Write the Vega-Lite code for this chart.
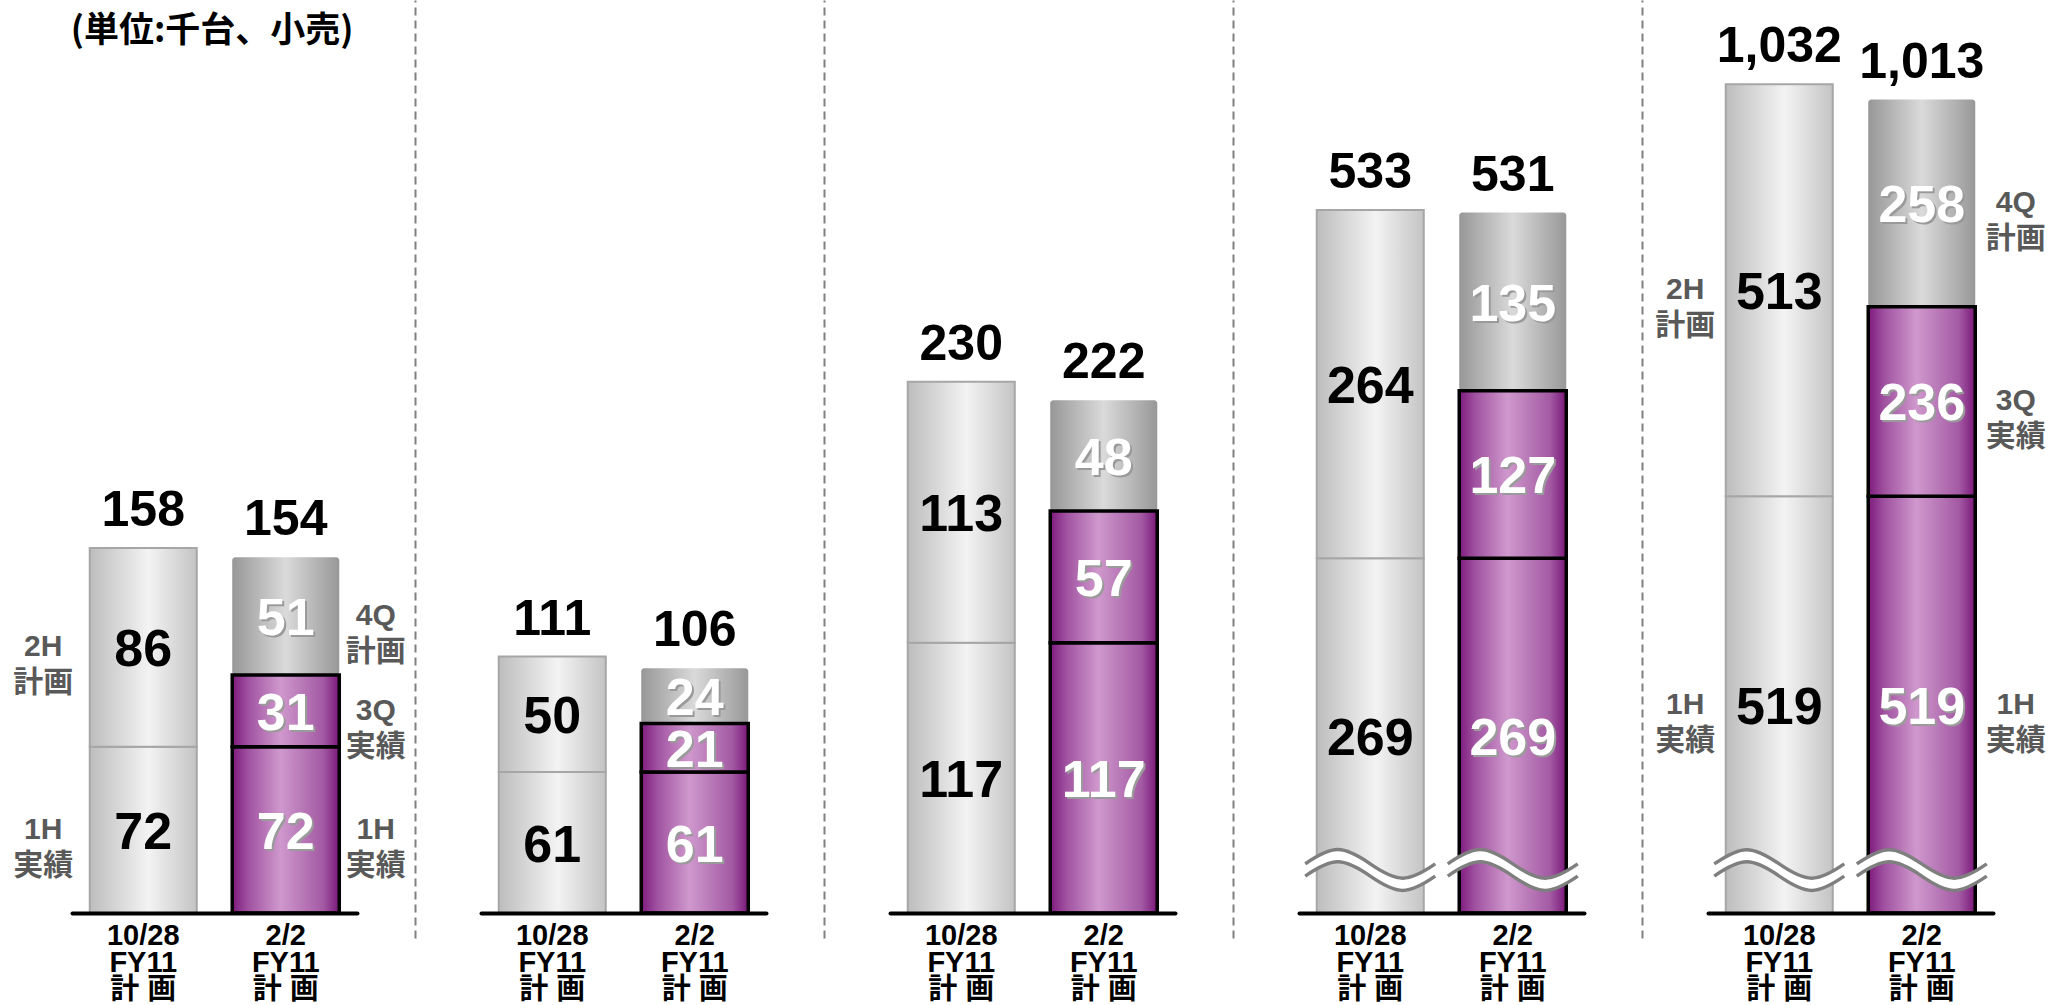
{
 "$schema": "https://vega.github.io/schema/vega-lite/v6.json",
 "background": "white",
 "padding": {"left": 13, "top": 0, "right": 0, "bottom": 0},
 "spacing": 124,
 "bounds": "flush",
 "config": {"view": {"stroke": null}},
 "data": {"values": [
  {"panel": 1, "plan": "10/28|FY11|計 画", "seg": "1H", "value": 72, "note": "1H\n実績"},
  {"panel": 1, "plan": "10/28|FY11|計 画", "seg": "2H", "value": 86, "note": "2H\n計画"},
  {"panel": 1, "plan": "2/2|FY11|計 画", "seg": "1H", "value": 72, "note": "1H\n実績"},
  {"panel": 1, "plan": "2/2|FY11|計 画", "seg": "3Q", "value": 31, "note": "3Q\n実績"},
  {"panel": 1, "plan": "2/2|FY11|計 画", "seg": "4Q", "value": 51, "note": "4Q\n計画"},
  {"panel": 2, "plan": "10/28|FY11|計 画", "seg": "1H", "value": 61},
  {"panel": 2, "plan": "10/28|FY11|計 画", "seg": "2H", "value": 50},
  {"panel": 2, "plan": "2/2|FY11|計 画", "seg": "1H", "value": 61},
  {"panel": 2, "plan": "2/2|FY11|計 画", "seg": "3Q", "value": 21},
  {"panel": 2, "plan": "2/2|FY11|計 画", "seg": "4Q", "value": 24},
  {"panel": 3, "plan": "10/28|FY11|計 画", "seg": "1H", "value": 117},
  {"panel": 3, "plan": "10/28|FY11|計 画", "seg": "2H", "value": 113},
  {"panel": 3, "plan": "2/2|FY11|計 画", "seg": "1H", "value": 117},
  {"panel": 3, "plan": "2/2|FY11|計 画", "seg": "3Q", "value": 57},
  {"panel": 3, "plan": "2/2|FY11|計 画", "seg": "4Q", "value": 48},
  {"panel": 4, "plan": "10/28|FY11|計 画", "seg": "1H", "value": 269},
  {"panel": 4, "plan": "10/28|FY11|計 画", "seg": "2H", "value": 264},
  {"panel": 4, "plan": "2/2|FY11|計 画", "seg": "1H", "value": 269},
  {"panel": 4, "plan": "2/2|FY11|計 画", "seg": "3Q", "value": 127},
  {"panel": 4, "plan": "2/2|FY11|計 画", "seg": "4Q", "value": 135},
  {"panel": 5, "plan": "10/28|FY11|計 画", "seg": "1H", "value": 519, "note": "1H\n実績"},
  {"panel": 5, "plan": "10/28|FY11|計 画", "seg": "2H", "value": 513, "note": "2H\n計画"},
  {"panel": 5, "plan": "2/2|FY11|計 画", "seg": "1H", "value": 519, "note": "1H\n実績"},
  {"panel": 5, "plan": "2/2|FY11|計 画", "seg": "3Q", "value": 236, "note": "3Q\n実績"},
  {"panel": 5, "plan": "2/2|FY11|計 画", "seg": "4Q", "value": 258, "note": "4Q\n計画"}
 ]},
 "hconcat": [
  {
   "width": 285, "height": 938,
   "transform": [
    {"filter": "datum.panel == 1"},
    {"stack": "value", "groupby": ["plan"], "sort": [{"field": "seg", "order": "ascending"}], "as": ["v0", "v1"]},
    {"calculate": "(datum.v0 + datum.v1) / 2", "as": "mid"}
   ],
   "encoding": {"x": {"field": "plan", "type": "nominal", "sort": null, "title": null, "scale": {"paddingInner": 0.249, "paddingOuter": 0.1245}, "axis": {"domainColor": "#000000", "domainWidth": 4, "domainCap": "round", "ticks": false, "labelAngle": 0, "labelFont": "Liberation Sans, Noto Sans CJK JP", "labelFontSize": 29, "labelFontWeight": "bold", "labelColor": "#000000", "labelPadding": 8, "labelLineHeight": 27, "labelExpr": "split(datum.label, '|')", "offset": -25, "zindex": 1}}},
   "layer": [
    {"transform": [{"filter": "indexof(datum.plan, '10/28') == 0"}], "mark": {"type": "bar", "fill": {"gradient": "linear", "x1": 0, "y1": 0, "x2": 1, "y2": 0, "stops": [{"offset": 0, "color": "#bdbdbd"}, {"offset": 0.55, "color": "#f3f3f3"}, {"offset": 1, "color": "#c4c4c4"}]}, "stroke": "#a6a6a6", "strokeWidth": 2}, "encoding": {"y": {"field": "v0", "type": "quantitative", "scale": {"domain": [-10.82, 395.24], "nice": false, "zero": false}, "axis": null, "title": null}, "y2": {"field": "v1"}}},
    {"transform": [{"filter": "datum.seg == '4Q'"}], "mark": {"type": "bar", "cornerRadius": 3, "fill": {"gradient": "linear", "x1": 0, "y1": 0, "x2": 1, "y2": 0, "stops": [{"offset": 0, "color": "#979797"}, {"offset": 0.5, "color": "#dadada"}, {"offset": 1, "color": "#989898"}]}}, "encoding": {"y": {"field": "v0", "type": "quantitative", "scale": {"domain": [-10.82, 395.24], "nice": false, "zero": false}, "axis": null, "title": null}, "y2": {"field": "v1"}}},
    {"transform": [{"filter": "indexof(datum.plan, '2/2') == 0 && datum.seg != '4Q'"}], "mark": {"type": "bar", "fill": {"gradient": "linear", "x1": 0, "y1": 0, "x2": 1, "y2": 0, "stops": [{"offset": 0, "color": "#7e1a7e"}, {"offset": 0.15, "color": "#a052a0"}, {"offset": 0.45, "color": "#cf98cd"}, {"offset": 0.85, "color": "#a35aa3"}, {"offset": 1, "color": "#7a177a"}]}, "stroke": "#000000", "strokeWidth": 3.5}, "encoding": {"y": {"field": "v0", "type": "quantitative", "scale": {"domain": [-10.82, 395.24], "nice": false, "zero": false}, "axis": null, "title": null}, "y2": {"field": "v1"}}},
    {"transform": [{"filter": "indexof(datum.plan, '10/28') == 0"}], "mark": {"type": "text", "font": "Liberation Sans", "fontSize": 52, "fontWeight": "bold", "color": "#000000", "baseline": "middle", "dy": 3}, "encoding": {"y": {"field": "mid", "type": "quantitative", "scale": {"domain": [-10.82, 395.24], "nice": false, "zero": false}, "axis": null, "title": null}, "text": {"field": "value"}}},
    {"transform": [{"filter": "indexof(datum.plan, '2/2') == 0"}], "mark": {"type": "text", "font": "Liberation Sans", "fontSize": 52, "fontWeight": "bold", "color": "#9a9a9a", "baseline": "middle", "dx": 2, "dy": 5}, "encoding": {"y": {"field": "mid", "type": "quantitative", "scale": {"domain": [-10.82, 395.24], "nice": false, "zero": false}, "axis": null, "title": null}, "text": {"field": "value"}}},
    {"transform": [{"filter": "indexof(datum.plan, '2/2') == 0"}], "mark": {"type": "text", "font": "Liberation Sans", "fontSize": 52, "fontWeight": "bold", "color": "#ffffff", "baseline": "middle", "dy": 3}, "encoding": {"y": {"field": "mid", "type": "quantitative", "scale": {"domain": [-10.82, 395.24], "nice": false, "zero": false}, "axis": null, "title": null}, "text": {"field": "value"}}},
    {"transform": [{"aggregate": [{"op": "sum", "field": "value", "as": "total"}], "groupby": ["plan"]}], "mark": {"type": "text", "font": "Liberation Sans", "fontSize": 50, "fontWeight": "bold", "color": "#000000", "baseline": "alphabetic", "dy": -22}, "encoding": {"y": {"field": "total", "type": "quantitative", "scale": {"domain": [-10.82, 395.24], "nice": false, "zero": false}, "axis": null, "title": null}, "text": {"field": "total", "format": ","}}},
    {"transform": [{"filter": "indexof(datum.plan, '10/28') == 0 && isValid(datum.note)"}], "mark": {"type": "text", "font": "Liberation Sans, Noto Sans CJK JP", "fontSize": 30, "fontWeight": "bold", "color": "#595959", "baseline": "middle", "lineBreak": "\n", "lineHeight": 36, "dx": -100}, "encoding": {"y": {"field": "mid", "type": "quantitative", "scale": {"domain": [-10.82, 395.24], "nice": false, "zero": false}, "axis": null, "title": null}, "text": {"field": "note"}}},
    {"transform": [{"filter": "indexof(datum.plan, '2/2') == 0 && isValid(datum.note)"}], "mark": {"type": "text", "font": "Liberation Sans, Noto Sans CJK JP", "fontSize": 30, "fontWeight": "bold", "color": "#595959", "baseline": "middle", "lineBreak": "\n", "lineHeight": 36, "dx": 90}, "encoding": {"y": {"field": "mid", "type": "quantitative", "scale": {"domain": [-10.82, 395.24], "nice": false, "zero": false}, "axis": null, "title": null}, "text": {"field": "note"}}},
    {"transform": [{"filter": "datum.seg == '2H'"}], "mark": {"type": "text", "font": "Noto Sans CJK JP", "fontSize": 35, "fontWeight": "bold", "color": "#000000", "align": "left", "baseline": "alphabetic", "dx": -19}, "encoding": {"x": {"datum": "10/28|FY11|計 画", "type": "nominal", "bandPosition": 0}, "y": {"datum": 377, "type": "quantitative", "scale": {"domain": [-10.82, 395.24], "nice": false, "zero": false}, "axis": null, "title": null}, "text": {"value": "(単位:千台、小売)"}}}
   ]
  },
  {
   "width": 285, "height": 938,
   "transform": [
    {"filter": "datum.panel == 2"},
    {"stack": "value", "groupby": ["plan"], "sort": [{"field": "seg", "order": "ascending"}], "as": ["v0", "v1"]},
    {"calculate": "(datum.v0 + datum.v1) / 2", "as": "mid"}
   ],
   "encoding": {"x": {"field": "plan", "type": "nominal", "sort": null, "title": null, "scale": {"paddingInner": 0.249, "paddingOuter": 0.1245}, "axis": {"domainColor": "#000000", "domainWidth": 4, "domainCap": "round", "ticks": false, "labelAngle": 0, "labelFont": "Liberation Sans, Noto Sans CJK JP", "labelFontSize": 29, "labelFontWeight": "bold", "labelColor": "#000000", "labelPadding": 8, "labelLineHeight": 27, "labelExpr": "split(datum.label, '|')", "offset": -25, "zindex": 1}}},
   "layer": [
    {"transform": [{"filter": "indexof(datum.plan, '10/28') == 0"}], "mark": {"type": "bar", "fill": {"gradient": "linear", "x1": 0, "y1": 0, "x2": 1, "y2": 0, "stops": [{"offset": 0, "color": "#bdbdbd"}, {"offset": 0.55, "color": "#f3f3f3"}, {"offset": 1, "color": "#c4c4c4"}]}, "stroke": "#a6a6a6", "strokeWidth": 2}, "encoding": {"y": {"field": "v0", "type": "quantitative", "scale": {"domain": [-10.82, 395.24], "nice": false, "zero": false}, "axis": {"labels": false, "ticks": false, "grid": false, "domainDash": [8, 5], "domainColor": "#808080", "domainWidth": 2, "offset": 66}, "title": null}, "y2": {"field": "v1"}}},
    {"transform": [{"filter": "datum.seg == '4Q'"}], "mark": {"type": "bar", "cornerRadius": 3, "fill": {"gradient": "linear", "x1": 0, "y1": 0, "x2": 1, "y2": 0, "stops": [{"offset": 0, "color": "#979797"}, {"offset": 0.5, "color": "#dadada"}, {"offset": 1, "color": "#989898"}]}}, "encoding": {"y": {"field": "v0", "type": "quantitative", "scale": {"domain": [-10.82, 395.24], "nice": false, "zero": false}, "title": null}, "y2": {"field": "v1"}}},
    {"transform": [{"filter": "indexof(datum.plan, '2/2') == 0 && datum.seg != '4Q'"}], "mark": {"type": "bar", "fill": {"gradient": "linear", "x1": 0, "y1": 0, "x2": 1, "y2": 0, "stops": [{"offset": 0, "color": "#7e1a7e"}, {"offset": 0.15, "color": "#a052a0"}, {"offset": 0.45, "color": "#cf98cd"}, {"offset": 0.85, "color": "#a35aa3"}, {"offset": 1, "color": "#7a177a"}]}, "stroke": "#000000", "strokeWidth": 3.5}, "encoding": {"y": {"field": "v0", "type": "quantitative", "scale": {"domain": [-10.82, 395.24], "nice": false, "zero": false}, "title": null}, "y2": {"field": "v1"}}},
    {"transform": [{"filter": "indexof(datum.plan, '10/28') == 0"}], "mark": {"type": "text", "font": "Liberation Sans", "fontSize": 52, "fontWeight": "bold", "color": "#000000", "baseline": "middle", "dy": 3}, "encoding": {"y": {"field": "mid", "type": "quantitative", "scale": {"domain": [-10.82, 395.24], "nice": false, "zero": false}, "title": null}, "text": {"field": "value"}}},
    {"transform": [{"filter": "indexof(datum.plan, '2/2') == 0"}], "mark": {"type": "text", "font": "Liberation Sans", "fontSize": 52, "fontWeight": "bold", "color": "#9a9a9a", "baseline": "middle", "dx": 2, "dy": 5}, "encoding": {"y": {"field": "mid", "type": "quantitative", "scale": {"domain": [-10.82, 395.24], "nice": false, "zero": false}, "title": null}, "text": {"field": "value"}}},
    {"transform": [{"filter": "indexof(datum.plan, '2/2') == 0"}], "mark": {"type": "text", "font": "Liberation Sans", "fontSize": 52, "fontWeight": "bold", "color": "#ffffff", "baseline": "middle", "dy": 3}, "encoding": {"y": {"field": "mid", "type": "quantitative", "scale": {"domain": [-10.82, 395.24], "nice": false, "zero": false}, "title": null}, "text": {"field": "value"}}},
    {"transform": [{"aggregate": [{"op": "sum", "field": "value", "as": "total"}], "groupby": ["plan"]}], "mark": {"type": "text", "font": "Liberation Sans", "fontSize": 50, "fontWeight": "bold", "color": "#000000", "baseline": "alphabetic", "dy": -22}, "encoding": {"y": {"field": "total", "type": "quantitative", "scale": {"domain": [-10.82, 395.24], "nice": false, "zero": false}, "title": null}, "text": {"field": "total", "format": ","}}}
   ]
  },
  {
   "width": 285, "height": 938,
   "transform": [
    {"filter": "datum.panel == 3"},
    {"stack": "value", "groupby": ["plan"], "sort": [{"field": "seg", "order": "ascending"}], "as": ["v0", "v1"]},
    {"calculate": "(datum.v0 + datum.v1) / 2", "as": "mid"}
   ],
   "encoding": {"x": {"field": "plan", "type": "nominal", "sort": null, "title": null, "scale": {"paddingInner": 0.249, "paddingOuter": 0.1245}, "axis": {"domainColor": "#000000", "domainWidth": 4, "domainCap": "round", "ticks": false, "labelAngle": 0, "labelFont": "Liberation Sans, Noto Sans CJK JP", "labelFontSize": 29, "labelFontWeight": "bold", "labelColor": "#000000", "labelPadding": 8, "labelLineHeight": 27, "labelExpr": "split(datum.label, '|')", "offset": -25, "zindex": 1}}},
   "layer": [
    {"transform": [{"filter": "indexof(datum.plan, '10/28') == 0"}], "mark": {"type": "bar", "fill": {"gradient": "linear", "x1": 0, "y1": 0, "x2": 1, "y2": 0, "stops": [{"offset": 0, "color": "#bdbdbd"}, {"offset": 0.55, "color": "#f3f3f3"}, {"offset": 1, "color": "#c4c4c4"}]}, "stroke": "#a6a6a6", "strokeWidth": 2}, "encoding": {"y": {"field": "v0", "type": "quantitative", "scale": {"domain": [-10.82, 395.24], "nice": false, "zero": false}, "axis": {"labels": false, "ticks": false, "grid": false, "domainDash": [8, 5], "domainColor": "#808080", "domainWidth": 2, "offset": 66}, "title": null}, "y2": {"field": "v1"}}},
    {"transform": [{"filter": "datum.seg == '4Q'"}], "mark": {"type": "bar", "cornerRadius": 3, "fill": {"gradient": "linear", "x1": 0, "y1": 0, "x2": 1, "y2": 0, "stops": [{"offset": 0, "color": "#979797"}, {"offset": 0.5, "color": "#dadada"}, {"offset": 1, "color": "#989898"}]}}, "encoding": {"y": {"field": "v0", "type": "quantitative", "scale": {"domain": [-10.82, 395.24], "nice": false, "zero": false}, "title": null}, "y2": {"field": "v1"}}},
    {"transform": [{"filter": "indexof(datum.plan, '2/2') == 0 && datum.seg != '4Q'"}], "mark": {"type": "bar", "fill": {"gradient": "linear", "x1": 0, "y1": 0, "x2": 1, "y2": 0, "stops": [{"offset": 0, "color": "#7e1a7e"}, {"offset": 0.15, "color": "#a052a0"}, {"offset": 0.45, "color": "#cf98cd"}, {"offset": 0.85, "color": "#a35aa3"}, {"offset": 1, "color": "#7a177a"}]}, "stroke": "#000000", "strokeWidth": 3.5}, "encoding": {"y": {"field": "v0", "type": "quantitative", "scale": {"domain": [-10.82, 395.24], "nice": false, "zero": false}, "title": null}, "y2": {"field": "v1"}}},
    {"transform": [{"filter": "indexof(datum.plan, '10/28') == 0"}], "mark": {"type": "text", "font": "Liberation Sans", "fontSize": 52, "fontWeight": "bold", "color": "#000000", "baseline": "middle", "dy": 3}, "encoding": {"y": {"field": "mid", "type": "quantitative", "scale": {"domain": [-10.82, 395.24], "nice": false, "zero": false}, "title": null}, "text": {"field": "value"}}},
    {"transform": [{"filter": "indexof(datum.plan, '2/2') == 0"}], "mark": {"type": "text", "font": "Liberation Sans", "fontSize": 52, "fontWeight": "bold", "color": "#9a9a9a", "baseline": "middle", "dx": 2, "dy": 5}, "encoding": {"y": {"field": "mid", "type": "quantitative", "scale": {"domain": [-10.82, 395.24], "nice": false, "zero": false}, "title": null}, "text": {"field": "value"}}},
    {"transform": [{"filter": "indexof(datum.plan, '2/2') == 0"}], "mark": {"type": "text", "font": "Liberation Sans", "fontSize": 52, "fontWeight": "bold", "color": "#ffffff", "baseline": "middle", "dy": 3}, "encoding": {"y": {"field": "mid", "type": "quantitative", "scale": {"domain": [-10.82, 395.24], "nice": false, "zero": false}, "title": null}, "text": {"field": "value"}}},
    {"transform": [{"aggregate": [{"op": "sum", "field": "value", "as": "total"}], "groupby": ["plan"]}], "mark": {"type": "text", "font": "Liberation Sans", "fontSize": 50, "fontWeight": "bold", "color": "#000000", "baseline": "alphabetic", "dy": -22}, "encoding": {"y": {"field": "total", "type": "quantitative", "scale": {"domain": [-10.82, 395.24], "nice": false, "zero": false}, "title": null}, "text": {"field": "total", "format": ","}}}
   ]
  },
  {
   "width": 285, "height": 938,
   "transform": [
    {"filter": "datum.panel == 4"},
    {"stack": "value", "groupby": ["plan"], "sort": [{"field": "seg", "order": "ascending"}], "as": ["v0", "v1"]},
    {"calculate": "(datum.v0 + datum.v1) / 2", "as": "mid"}
   ],
   "encoding": {"x": {"field": "plan", "type": "nominal", "sort": null, "title": null, "scale": {"paddingInner": 0.249, "paddingOuter": 0.1245}, "axis": {"domainColor": "#000000", "domainWidth": 4, "domainCap": "round", "ticks": false, "labelAngle": 0, "labelFont": "Liberation Sans, Noto Sans CJK JP", "labelFontSize": 29, "labelFontWeight": "bold", "labelColor": "#000000", "labelPadding": 8, "labelLineHeight": 27, "labelExpr": "split(datum.label, '|')", "offset": -25, "zindex": 1}}},
   "layer": [
    {"transform": [{"filter": "indexof(datum.plan, '10/28') == 0"}], "mark": {"type": "bar", "fill": {"gradient": "linear", "x1": 0, "y1": 0, "x2": 1, "y2": 0, "stops": [{"offset": 0, "color": "#bdbdbd"}, {"offset": 0.55, "color": "#f3f3f3"}, {"offset": 1, "color": "#c4c4c4"}]}, "stroke": "#a6a6a6", "strokeWidth": 2}, "encoding": {"y": {"field": "v0", "type": "quantitative", "scale": {"domain": [-18.95, 692.19], "nice": false, "zero": false}, "axis": {"labels": false, "ticks": false, "grid": false, "domainDash": [8, 5], "domainColor": "#808080", "domainWidth": 2, "offset": 66}, "title": null}, "y2": {"field": "v1"}}},
    {"transform": [{"filter": "datum.seg == '4Q'"}], "mark": {"type": "bar", "cornerRadius": 3, "fill": {"gradient": "linear", "x1": 0, "y1": 0, "x2": 1, "y2": 0, "stops": [{"offset": 0, "color": "#979797"}, {"offset": 0.5, "color": "#dadada"}, {"offset": 1, "color": "#989898"}]}}, "encoding": {"y": {"field": "v0", "type": "quantitative", "scale": {"domain": [-18.95, 692.19], "nice": false, "zero": false}, "title": null}, "y2": {"field": "v1"}}},
    {"transform": [{"filter": "indexof(datum.plan, '2/2') == 0 && datum.seg != '4Q'"}], "mark": {"type": "bar", "fill": {"gradient": "linear", "x1": 0, "y1": 0, "x2": 1, "y2": 0, "stops": [{"offset": 0, "color": "#7e1a7e"}, {"offset": 0.15, "color": "#a052a0"}, {"offset": 0.45, "color": "#cf98cd"}, {"offset": 0.85, "color": "#a35aa3"}, {"offset": 1, "color": "#7a177a"}]}, "stroke": "#000000", "strokeWidth": 3.5}, "encoding": {"y": {"field": "v0", "type": "quantitative", "scale": {"domain": [-18.95, 692.19], "nice": false, "zero": false}, "title": null}, "y2": {"field": "v1"}}},
    {"transform": [{"filter": "datum.seg == '1H'"}], "mark": {"type": "point", "shape": "M -1 -0.094 C -0.576 -0.387 -0.424 -0.387 0 -0.094 C 0.424 0.199 0.576 0.199 1 -0.094 L 1 0.094 C 0.576 0.387 0.424 0.387 0 0.094 C -0.424 -0.199 -0.576 -0.199 -1 0.094 Z", "filled": true, "fill": "#ffffff", "strokeWidth": 0, "size": 16900, "opacity": 1}, "encoding": {"y": {"datum": 32.6, "type": "quantitative", "scale": {"domain": [-18.95, 692.19], "nice": false, "zero": false}, "title": null}}},
    {"transform": [{"filter": "datum.seg == '1H'"}], "mark": {"type": "point", "shape": "M -1 -0.094 C -0.576 -0.387 -0.424 -0.387 0 -0.094 C 0.424 0.199 0.576 0.199 1 -0.094 M -1 0.094 C -0.576 -0.199 -0.424 -0.199 0 0.094 C 0.424 0.387 0.576 0.387 1 0.094", "filled": false, "stroke": "#7f7f7f", "strokeWidth": 3.5, "size": 16900, "opacity": 1}, "encoding": {"y": {"datum": 32.6, "type": "quantitative", "scale": {"domain": [-18.95, 692.19], "nice": false, "zero": false}, "title": null}}},
    {"transform": [{"filter": "indexof(datum.plan, '10/28') == 0"}], "mark": {"type": "text", "font": "Liberation Sans", "fontSize": 52, "fontWeight": "bold", "color": "#000000", "baseline": "middle", "dy": 3}, "encoding": {"y": {"field": "mid", "type": "quantitative", "scale": {"domain": [-18.95, 692.19], "nice": false, "zero": false}, "title": null}, "text": {"field": "value"}}},
    {"transform": [{"filter": "indexof(datum.plan, '2/2') == 0"}], "mark": {"type": "text", "font": "Liberation Sans", "fontSize": 52, "fontWeight": "bold", "color": "#9a9a9a", "baseline": "middle", "dx": 2, "dy": 5}, "encoding": {"y": {"field": "mid", "type": "quantitative", "scale": {"domain": [-18.95, 692.19], "nice": false, "zero": false}, "title": null}, "text": {"field": "value"}}},
    {"transform": [{"filter": "indexof(datum.plan, '2/2') == 0"}], "mark": {"type": "text", "font": "Liberation Sans", "fontSize": 52, "fontWeight": "bold", "color": "#ffffff", "baseline": "middle", "dy": 3}, "encoding": {"y": {"field": "mid", "type": "quantitative", "scale": {"domain": [-18.95, 692.19], "nice": false, "zero": false}, "title": null}, "text": {"field": "value"}}},
    {"transform": [{"aggregate": [{"op": "sum", "field": "value", "as": "total"}], "groupby": ["plan"]}], "mark": {"type": "text", "font": "Liberation Sans", "fontSize": 50, "fontWeight": "bold", "color": "#000000", "baseline": "alphabetic", "dy": -22}, "encoding": {"y": {"field": "total", "type": "quantitative", "scale": {"domain": [-18.95, 692.19], "nice": false, "zero": false}, "title": null}, "text": {"field": "total", "format": ","}}}
   ]
  },
  {
   "width": 285, "height": 938,
   "transform": [
    {"filter": "datum.panel == 5"},
    {"stack": "value", "groupby": ["plan"], "sort": [{"field": "seg", "order": "ascending"}], "as": ["v0", "v1"]},
    {"calculate": "(datum.v0 + datum.v1) / 2", "as": "mid"}
   ],
   "encoding": {"x": {"field": "plan", "type": "nominal", "sort": null, "title": null, "scale": {"paddingInner": 0.249, "paddingOuter": 0.1245}, "axis": {"domainColor": "#000000", "domainWidth": 4, "domainCap": "round", "ticks": false, "labelAngle": 0, "labelFont": "Liberation Sans, Noto Sans CJK JP", "labelFontSize": 29, "labelFontWeight": "bold", "labelColor": "#000000", "labelPadding": 8, "labelLineHeight": 27, "labelExpr": "split(datum.label, '|')", "offset": -25, "zindex": 1}}},
   "layer": [
    {"transform": [{"filter": "indexof(datum.plan, '10/28') == 0"}], "mark": {"type": "bar", "fill": {"gradient": "linear", "x1": 0, "y1": 0, "x2": 1, "y2": 0, "stops": [{"offset": 0, "color": "#bdbdbd"}, {"offset": 0.55, "color": "#f3f3f3"}, {"offset": 1, "color": "#c4c4c4"}]}, "stroke": "#a6a6a6", "strokeWidth": 2}, "encoding": {"y": {"field": "v0", "type": "quantitative", "scale": {"domain": [-31.13, 1136.99], "nice": false, "zero": false}, "axis": {"labels": false, "ticks": false, "grid": false, "domainDash": [8, 5], "domainColor": "#808080", "domainWidth": 2, "offset": 66}, "title": null}, "y2": {"field": "v1"}}},
    {"transform": [{"filter": "datum.seg == '4Q'"}], "mark": {"type": "bar", "cornerRadius": 3, "fill": {"gradient": "linear", "x1": 0, "y1": 0, "x2": 1, "y2": 0, "stops": [{"offset": 0, "color": "#979797"}, {"offset": 0.5, "color": "#dadada"}, {"offset": 1, "color": "#989898"}]}}, "encoding": {"y": {"field": "v0", "type": "quantitative", "scale": {"domain": [-31.13, 1136.99], "nice": false, "zero": false}, "title": null}, "y2": {"field": "v1"}}},
    {"transform": [{"filter": "indexof(datum.plan, '2/2') == 0 && datum.seg != '4Q'"}], "mark": {"type": "bar", "fill": {"gradient": "linear", "x1": 0, "y1": 0, "x2": 1, "y2": 0, "stops": [{"offset": 0, "color": "#7e1a7e"}, {"offset": 0.15, "color": "#a052a0"}, {"offset": 0.45, "color": "#cf98cd"}, {"offset": 0.85, "color": "#a35aa3"}, {"offset": 1, "color": "#7a177a"}]}, "stroke": "#000000", "strokeWidth": 3.5}, "encoding": {"y": {"field": "v0", "type": "quantitative", "scale": {"domain": [-31.13, 1136.99], "nice": false, "zero": false}, "title": null}, "y2": {"field": "v1"}}},
    {"transform": [{"filter": "datum.seg == '1H'"}], "mark": {"type": "point", "shape": "M -1 -0.094 C -0.576 -0.387 -0.424 -0.387 0 -0.094 C 0.424 0.199 0.576 0.199 1 -0.094 L 1 0.094 C 0.576 0.387 0.424 0.387 0 0.094 C -0.424 -0.199 -0.576 -0.199 -1 0.094 Z", "filled": true, "fill": "#ffffff", "strokeWidth": 0, "size": 16900, "opacity": 1}, "encoding": {"y": {"datum": 53.5, "type": "quantitative", "scale": {"domain": [-31.13, 1136.99], "nice": false, "zero": false}, "title": null}}},
    {"transform": [{"filter": "datum.seg == '1H'"}], "mark": {"type": "point", "shape": "M -1 -0.094 C -0.576 -0.387 -0.424 -0.387 0 -0.094 C 0.424 0.199 0.576 0.199 1 -0.094 M -1 0.094 C -0.576 -0.199 -0.424 -0.199 0 0.094 C 0.424 0.387 0.576 0.387 1 0.094", "filled": false, "stroke": "#7f7f7f", "strokeWidth": 3.5, "size": 16900, "opacity": 1}, "encoding": {"y": {"datum": 53.5, "type": "quantitative", "scale": {"domain": [-31.13, 1136.99], "nice": false, "zero": false}, "title": null}}},
    {"transform": [{"filter": "indexof(datum.plan, '10/28') == 0"}], "mark": {"type": "text", "font": "Liberation Sans", "fontSize": 52, "fontWeight": "bold", "color": "#000000", "baseline": "middle", "dy": 3}, "encoding": {"y": {"field": "mid", "type": "quantitative", "scale": {"domain": [-31.13, 1136.99], "nice": false, "zero": false}, "title": null}, "text": {"field": "value"}}},
    {"transform": [{"filter": "indexof(datum.plan, '2/2') == 0"}], "mark": {"type": "text", "font": "Liberation Sans", "fontSize": 52, "fontWeight": "bold", "color": "#9a9a9a", "baseline": "middle", "dx": 2, "dy": 5}, "encoding": {"y": {"field": "mid", "type": "quantitative", "scale": {"domain": [-31.13, 1136.99], "nice": false, "zero": false}, "title": null}, "text": {"field": "value"}}},
    {"transform": [{"filter": "indexof(datum.plan, '2/2') == 0"}], "mark": {"type": "text", "font": "Liberation Sans", "fontSize": 52, "fontWeight": "bold", "color": "#ffffff", "baseline": "middle", "dy": 3}, "encoding": {"y": {"field": "mid", "type": "quantitative", "scale": {"domain": [-31.13, 1136.99], "nice": false, "zero": false}, "title": null}, "text": {"field": "value"}}},
    {"transform": [{"aggregate": [{"op": "sum", "field": "value", "as": "total"}], "groupby": ["plan"]}], "mark": {"type": "text", "font": "Liberation Sans", "fontSize": 50, "fontWeight": "bold", "color": "#000000", "baseline": "alphabetic", "dy": -22}, "encoding": {"y": {"field": "total", "type": "quantitative", "scale": {"domain": [-31.13, 1136.99], "nice": false, "zero": false}, "title": null}, "text": {"field": "total", "format": ","}}},
    {"transform": [{"filter": "indexof(datum.plan, '10/28') == 0 && isValid(datum.note)"}], "mark": {"type": "text", "font": "Liberation Sans, Noto Sans CJK JP", "fontSize": 30, "fontWeight": "bold", "color": "#595959", "baseline": "middle", "lineBreak": "\n", "lineHeight": 36, "dx": -94}, "encoding": {"y": {"field": "mid", "type": "quantitative", "scale": {"domain": [-31.13, 1136.99], "nice": false, "zero": false}, "title": null}, "text": {"field": "note"}}},
    {"transform": [{"filter": "indexof(datum.plan, '2/2') == 0 && isValid(datum.note)"}], "mark": {"type": "text", "font": "Liberation Sans, Noto Sans CJK JP", "fontSize": 30, "fontWeight": "bold", "color": "#595959", "baseline": "middle", "lineBreak": "\n", "lineHeight": 36, "dx": 94}, "encoding": {"y": {"field": "mid", "type": "quantitative", "scale": {"domain": [-31.13, 1136.99], "nice": false, "zero": false}, "title": null}, "text": {"field": "note"}}}
   ]
  }
 ]
}
